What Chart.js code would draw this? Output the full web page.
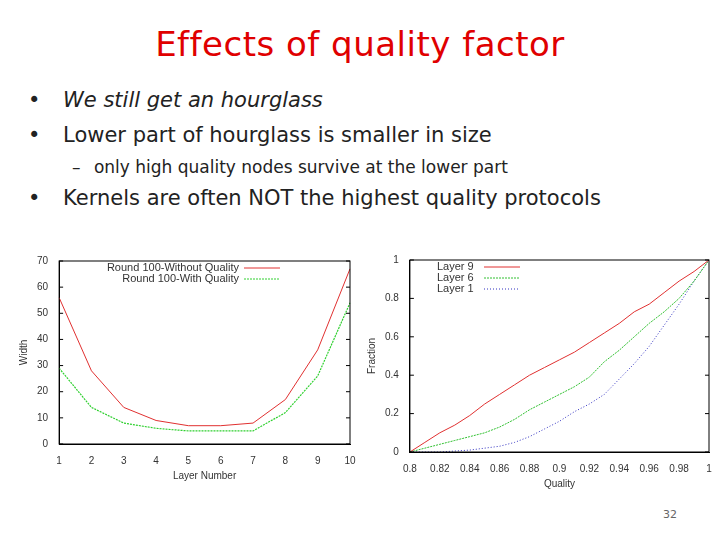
<!DOCTYPE html>
<html><head><meta charset="utf-8">
<script src="https://cdn.jsdelivr.net/npm/chart.js@4"></script>
<style>
body{margin:0;width:720px;height:540px;background:#fff;position:relative;overflow:hidden;font-family:"DejaVu Sans",sans-serif}
.t{position:absolute;white-space:nowrap}
canvas{position:absolute}
</style></head><body>
<div class="t" style="left:0;width:720px;text-align:center;top:24px;font-size:34px;color:#e00000;font-family:'DejaVu Sans',sans-serif;letter-spacing:0.5px">Effects of quality factor</div>
<div class="t" style="left:28px;top:88px;font-size:21px;color:#222">• <i style="margin-left:16px">We still get an hourglass</i></div>
<div class="t" style="left:28px;top:123px;font-size:21px;color:#222">• <span style="margin-left:16px">Lower part of hourglass is smaller in size</span></div>
<div class="t" style="left:72px;top:157px;font-size:17px;color:#222">– <span style="margin-left:8px">only high quality nodes survive at the lower part</span></div>
<div class="t" style="left:28px;top:186px;font-size:21px;color:#222">• <span style="margin-left:16px">Kernels are often NOT the highest quality protocols</span></div>
<div class="t" style="left:663px;top:508px;font-size:11px;color:#666">32</div>
<canvas id="c1" width="350" height="230" style="left:14px;top:252px"></canvas>
<canvas id="c2" width="355" height="240" style="left:362px;top:250px"></canvas>
<script>
const layers=[1,2,3,4,5,6,7,8,9,10];
const withoutQ=[56,28,14,9,7,7,8,17,36,67];
const withQ=[29,14,8,6,5,5,5,12,26,54];
const quality=[0.80,0.81,0.82,0.83,0.84,0.85,0.86,0.87,0.88,0.89,0.90,0.91,0.92,0.93,0.94,0.95,0.96,0.97,0.98,0.99,1.00];
const layer9=[0,0.05,0.10,0.14,0.19,0.25,0.30,0.35,0.40,0.44,0.48,0.52,0.57,0.62,0.67,0.73,0.77,0.83,0.89,0.94,1.0];
const layer6=[0,0.02,0.04,0.06,0.08,0.10,0.13,0.17,0.22,0.26,0.30,0.34,0.39,0.47,0.53,0.60,0.67,0.73,0.80,0.89,1.0];
const layer1=[0,0,0,0.005,0.01,0.02,0.03,0.05,0.08,0.12,0.16,0.21,0.25,0.30,0.38,0.46,0.55,0.66,0.77,0.89,1.0];
const qTicks=[0.8,0.82,0.84,0.86,0.88,0.9,0.92,0.94,0.96,0.98,1];

const legendIn={id:'legendIn',afterDraw(ch,a,o){const c=ch.ctx,ca=ch.chartArea;c.save();c.font='11px "Liberation Sans"';c.fillStyle='#333';c.textBaseline='middle';
 ch.data.datasets.forEach((d,i)=>{const y=ca.top+7+i*11;
  c.textAlign=o.right?'right':'left';c.fillText(d.label,o.x,y);
  c.strokeStyle=d.borderColor;c.lineWidth=1;c.setLineDash(d.borderDash||[]);c.beginPath();c.moveTo(o.lx,y);c.lineTo(o.lx+36,y);c.stroke();});
 c.restore();}};
const boxTicks={id:'boxTicks',afterDraw(ch){const c=ch.ctx,ca=ch.chartArea;c.save();c.strokeStyle='#000';c.lineWidth=1;
 c.strokeRect(ca.left,ca.top,ca.right-ca.left,ca.bottom-ca.top);
 ch.scales.y.ticks.forEach(t=>{const y=ch.scales.y.getPixelForValue(t.value);c.beginPath();c.moveTo(ca.right,y);c.lineTo(ca.right-4,y);c.moveTo(ca.left,y);c.lineTo(ca.left+4,y);c.stroke();});
 c.restore();}};
Chart.defaults.font.family='"Liberation Sans"';Chart.defaults.font.size=10;Chart.defaults.color='#333';
const axY=(title,min,max,step)=>({min,max,ticks:{stepSize:step,callback:v=>String(+v.toFixed(2))},grid:{display:false},border:{color:'#000'},title:{display:true,text:title,font:{size:10}}});
new Chart(document.getElementById('c1'),{type:'line',
 data:{labels:layers,datasets:[
  {label:'Round 100-Without Quality',data:withoutQ,borderColor:'#e03030',borderWidth:1,pointRadius:0,tension:0},
  {label:'Round 100-With Quality',data:withQ,borderColor:'#30d030',borderWidth:1.2,borderDash:[2,1],pointRadius:0,tension:0}]},
 options:{responsive:false,animation:false,plugins:{legend:{display:false},tooltip:{enabled:false},legendIn:{x:225,right:true,lx:230}},
  layout:{padding:{right:14,top:6}},
  scales:{x:{offset:false,grid:{display:false},border:{color:'#000'},title:{display:true,text:'Layer Number',padding:0}},y:axY('Width',0,70,10)}},
 plugins:[legendIn,boxTicks]});
new Chart(document.getElementById('c2'),{type:'line',
 data:{datasets:[
  {label:'Layer 9',data:quality.map((q,i)=>({x:q,y:layer9[i]})),borderColor:'#e03030',borderWidth:1,pointRadius:0},
  {label:'Layer 6',data:quality.map((q,i)=>({x:q,y:layer6[i]})),borderColor:'#30c030',borderWidth:1,borderDash:[2,1],pointRadius:0},
  {label:'Layer 1',data:quality.map((q,i)=>({x:q,y:layer1[i]})),borderColor:'#3030c0',borderWidth:1,borderDash:[1,2],pointRadius:0}]},
 options:{responsive:false,animation:false,plugins:{legend:{display:false},tooltip:{enabled:false},legendIn:{x:75,right:false,lx:122}},
  layout:{padding:{right:8,top:10}},
  scales:{x:{type:'linear',min:0.8,max:1,afterBuildTicks:s=>{s.ticks=qTicks.map(v=>({value:v}));},ticks:{callback:v=>String(+v.toFixed(2))},grid:{display:false},border:{color:'#000'},title:{display:true,text:'Quality',padding:0}},
   y:axY('Fraction',0,1,0.2)}},
 plugins:[legendIn,boxTicks]});
</script></body></html>
